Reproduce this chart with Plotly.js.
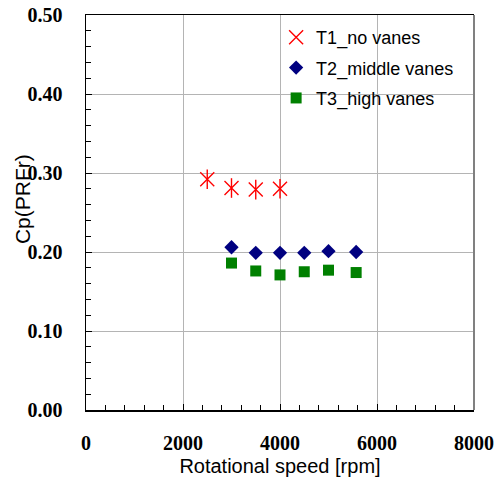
<!DOCTYPE html>
<html>
<head>
<meta charset="utf-8">
<script src="https://cdn.plot.ly/plotly-3.0.1.min.js"></script>
<style>html,body{margin:0;padding:0;background:#fff;}#chart{width:495px;height:492px;}</style>
</head>
<body>
<div id="chart"></div>
<script>
const t1Speed = [2500, 3000, 3500, 4000];
const t1Cp = [0.292, 0.281, 0.279, 0.280];
const t2Speed = [3000, 3500, 4000, 4500, 5000, 5570];
const t2Cp = [0.206, 0.199, 0.199, 0.199, 0.201, 0.200];
const t3Speed = [3000, 3500, 4000, 4500, 5000, 5570];
const t3Cp = [0.186, 0.176, 0.171, 0.175, 0.177, 0.174];
const seriesNames = ["T1_no vanes", "T2_middle vanes", "T3_high vanes"];
const xTicks = [0, 2000, 4000, 6000, 8000];
const yTicks = [0, 0.1, 0.2, 0.3, 0.4, 0.5];
const xTitle = 'Rotational speed [rpm]';
const yTitle = 'Cp(PRFr)';

const traces = [
  {x: t1Speed, y: t1Cp, name: seriesNames[0], mode: 'markers', type: 'scatter', legendgroup: 'a',
   marker: {symbol: 'x-thin-open', size: 14, color: '#ff0000', line: {color: '#ff0000', width: 1.4}}},
  {x: t1Speed, y: t1Cp, name: seriesNames[0], mode: 'markers', type: 'scatter', legendgroup: 'a', showlegend: false,
   marker: {symbol: 'line-ns-open', size: 14, color: '#ff0000', line: {color: '#ff0000', width: 1.4}}},
  {x: t2Speed, y: t2Cp, name: seriesNames[1], mode: 'markers', type: 'scatter', legendgroup: 'b',
   marker: {symbol: 'diamond', size: 11, color: '#000080'}},
  {x: t3Speed, y: t3Cp, name: seriesNames[2], mode: 'markers', type: 'scatter', legendgroup: 'c',
   marker: {symbol: 'square', size: 11, color: '#008000'}}
];

const tickFont = {family: 'Liberation Serif, DejaVu Serif, serif', size: 20, color: '#000', weight: 'bold'};
const titleFont = {family: 'Liberation Sans, Arial, sans-serif', size: 20, color: '#000'};

const layout = {
  width: 495, height: 492,
  margin: {l: 86, r: 21, t: 15, b: 82},
  paper_bgcolor: '#fff', plot_bgcolor: '#fff',
  showlegend: true,
  legend: {x: 0.49, y: 0.99, xanchor: 'left', yanchor: 'top', bgcolor: 'rgba(0,0,0,0)',
           font: {family: 'Liberation Sans, Arial, sans-serif', size: 18, color: '#000'},
           tracegroupgap: 4},
  xaxis: {
    range: [0, 8000], tickvals: xTicks, ticktext: xTicks.map(String),
    tickfont: tickFont,
    showgrid: true, gridcolor: '#b4b4b4', gridwidth: 1,
    showline: true, linecolor: '#000', linewidth: 1.5, mirror: true,
    ticks: 'inside', ticklen: 6, tickcolor: '#000',
    minor: {dtick: 400, ticks: 'inside', ticklen: 5, tickcolor: '#000', showgrid: false},
    zeroline: false, ticklabelstandoff: 14,
    title: {text: xTitle, font: titleFont, standoff: 6}
  },
  yaxis: {
    range: [0, 0.5], tickvals: yTicks, ticktext: yTicks.map(v => v.toFixed(2)),
    tickfont: tickFont,
    showgrid: true, gridcolor: '#b4b4b4', gridwidth: 1,
    showline: true, linecolor: '#000', linewidth: 1.5, mirror: false,
    ticks: 'inside', ticklen: 6, tickcolor: '#000',
    minor: {dtick: 0.02, ticks: 'inside', ticklen: 5, tickcolor: '#000', showgrid: false},
    zeroline: false, ticklabelstandoff: 18
  },
  annotations: [
    {text: yTitle, xref: 'paper', yref: 'paper', x: -0.165, y: 0.534, xanchor: 'center', yanchor: 'middle',
     textangle: -90, showarrow: false, font: Object.assign({}, titleFont, {size: 21})}
  ],
  shapes: [
    {type: 'line', xref: 'paper', yref: 'paper', x0: 1, x1: 1, y0: 0, y1: 1,
     line: {color: '#808080', width: 2}}
  ]
};

Plotly.newPlot('chart', traces, layout, {displayModeBar: false, staticPlot: true});
</script>
</body>
</html>
